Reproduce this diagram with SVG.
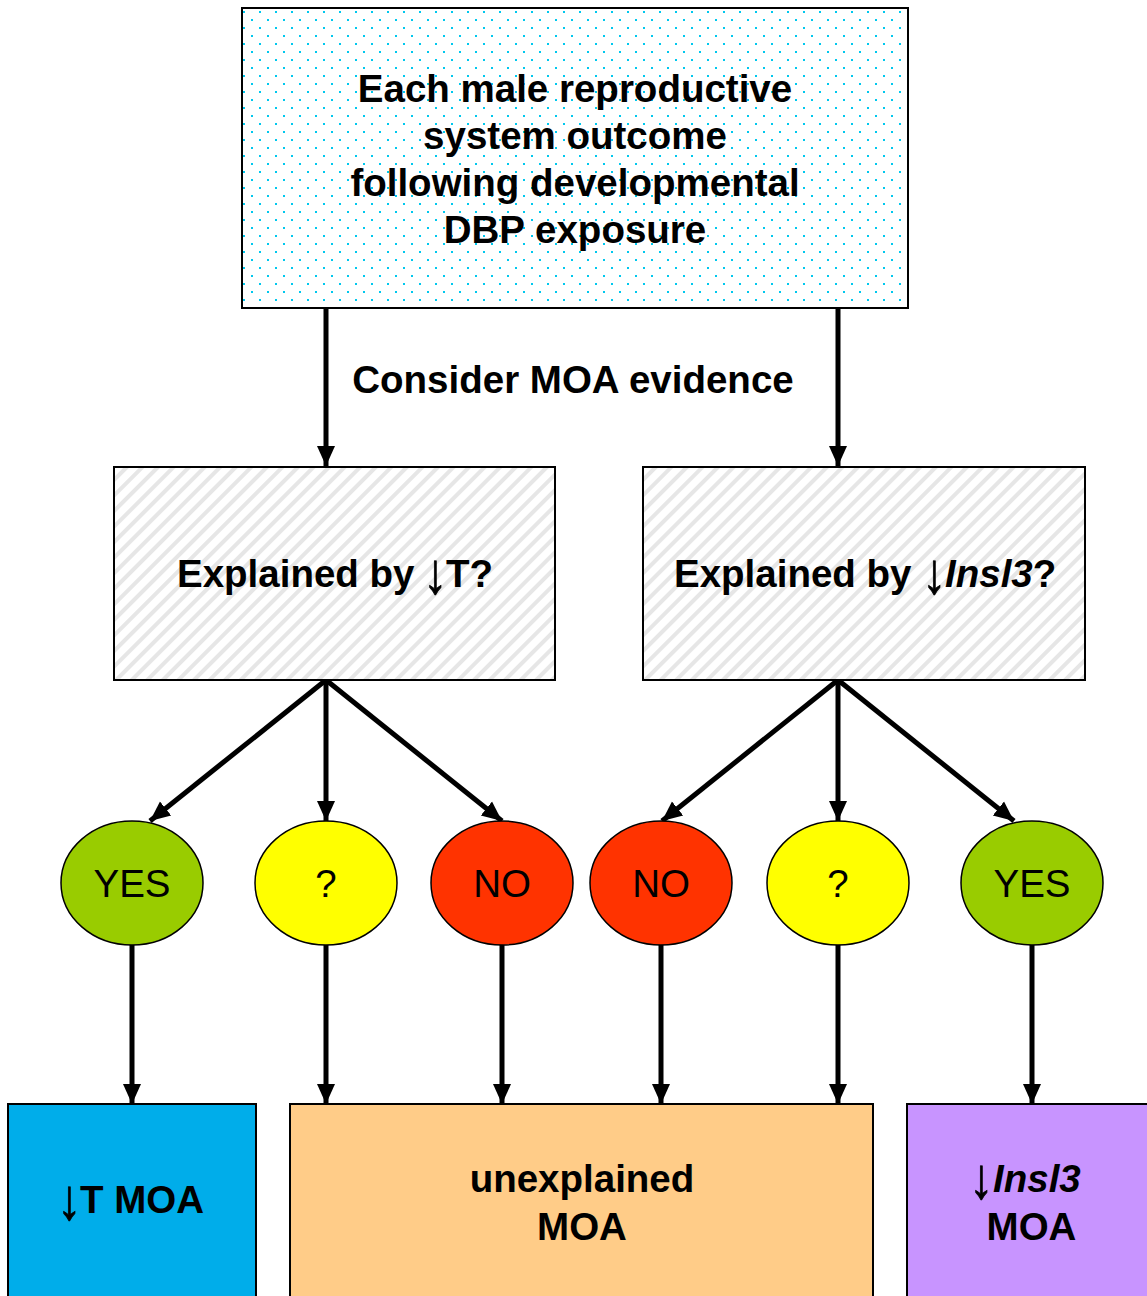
<svg xmlns="http://www.w3.org/2000/svg" width="1147" height="1296" viewBox="0 0 1147 1296">
<defs>
<pattern id="dots" x="243" y="11" width="16" height="16" patternUnits="userSpaceOnUse">
<rect x="0" y="0" width="2" height="2" fill="#00C8EE"/>
<rect x="8" y="8" width="2" height="2" fill="#00C8EE"/>
</pattern>
<pattern id="hatch" width="11" height="11" patternUnits="userSpaceOnUse" patternTransform="rotate(45)">
<rect x="0" y="0" width="11" height="11" fill="#ffffff"/>
<rect x="0" y="0" width="4" height="11" fill="#e6e6e6"/>
</pattern>
<marker id="ah" markerUnits="userSpaceOnUse" markerWidth="20" markerHeight="20" viewBox="0 0 20 20" refX="20" refY="10" orient="auto">
<path d="M0,1 L20,10 L0,19 Z" fill="#000"/>
</marker>
</defs>
<style>
.box{stroke:#000;stroke-width:2}
.t{font-family:"Liberation Sans",Arial,sans-serif;font-weight:bold;font-size:38.5px;text-anchor:middle;fill:#000}
.s{text-anchor:start}
.e{font-family:"Liberation Sans",Arial,sans-serif;font-size:38.5px;text-anchor:middle;fill:#000}
.ar{font-family:"Liberation Sans",Arial,sans-serif;font-size:36px;text-anchor:middle;fill:#000;stroke:#000;stroke-width:0.5}
.c{stroke:#000;stroke-width:5;fill:none;marker-end:url(#ah)}
.el{stroke:#000;stroke-width:1.5}
</style>
<rect width="1147" height="1296" fill="#fff"/>
<g id="connectors">
<line class="c" x1="326" y1="308" x2="326" y2="466"/>
<line class="c" x1="838" y1="308" x2="838" y2="466"/>
<line class="c" x1="326" y1="680" x2="150" y2="821"/>
<line class="c" x1="326" y1="680" x2="326" y2="821"/>
<line class="c" x1="326" y1="680" x2="502" y2="821"/>
<line class="c" x1="838" y1="680" x2="662" y2="821"/>
<line class="c" x1="838" y1="680" x2="838" y2="821"/>
<line class="c" x1="838" y1="680" x2="1014" y2="821"/>
<line class="c" x1="132" y1="945" x2="132" y2="1104"/>
<line class="c" x1="326" y1="945" x2="326" y2="1104"/>
<line class="c" x1="502" y1="945" x2="502" y2="1104"/>
<line class="c" x1="661" y1="945" x2="661" y2="1104"/>
<line class="c" x1="838" y1="945" x2="838" y2="1104"/>
<line class="c" x1="1032" y1="945" x2="1032" y2="1104"/>
</g>
<g id="label-consider">
<text class="t" x="573" y="393">Consider MOA evidence</text>
</g>
<g id="top">
<rect class="box" x="242" y="8" width="666" height="300" fill="#fff"/>
<rect x="243" y="9" width="664" height="298" fill="url(#dots)"/>
<text class="t" x="575" y="102">Each male reproductive</text>
<text class="t" x="575" y="149">system outcome</text>
<text class="t" x="575" y="196">following developmental</text>
<text class="t" x="575" y="243">DBP exposure</text>
</g>
<g id="q-t">
<rect class="box" x="114" y="467" width="441" height="213" fill="url(#hatch)"/>
<text class="t s" x="177" y="587">Explained by</text>
<text class="ar" transform="translate(435.5,593) scale(1.35,1.6)">↓</text>
<text class="t s" x="446" y="587">T?</text>
</g>
<g id="q-insl3">
<rect class="box" x="643" y="467" width="442" height="213" fill="url(#hatch)"/>
<text class="t s" x="674" y="587">Explained by</text>
<text class="ar" transform="translate(934.5,593) scale(1.35,1.6)">↓</text>
<text class="t s" x="945" y="587"><tspan font-style="italic">Insl3</tspan>?</text>
</g>
<g id="yes1"><ellipse class="el" cx="132" cy="883" rx="71" ry="62" fill="#99CC00"/><text class="e" x="132" y="897">YES</text></g>
<g id="q1"><ellipse class="el" cx="326" cy="883" rx="71" ry="62" fill="#FFFF00"/><text class="e" x="326" y="897">?</text></g>
<g id="no1"><ellipse class="el" cx="502" cy="883" rx="71" ry="62" fill="#FF3300"/><text class="e" x="502" y="897">NO</text></g>
<g id="no2"><ellipse class="el" cx="661" cy="883" rx="71" ry="62" fill="#FF3300"/><text class="e" x="661" y="897">NO</text></g>
<g id="q2"><ellipse class="el" cx="838" cy="883" rx="71" ry="62" fill="#FFFF00"/><text class="e" x="838" y="897">?</text></g>
<g id="yes2"><ellipse class="el" cx="1032" cy="883" rx="71" ry="62" fill="#99CC00"/><text class="e" x="1032" y="897">YES</text></g>
<g id="t-moa">
<rect class="box" x="8" y="1104" width="248" height="200" fill="#00ADEA"/>
<text class="ar" transform="translate(69.5,1219) scale(1.35,1.6)">↓</text>
<text class="t s" x="80" y="1213">T MOA</text>
</g>
<g id="unexplained">
<rect class="box" x="290" y="1104" width="583" height="200" fill="#FFCC88"/>
<text class="t" x="582" y="1192">unexplained</text>
<text class="t" x="582" y="1240">MOA</text>
</g>
<g id="insl3-moa">
<rect class="box" x="907" y="1104" width="250" height="200" fill="#C894FF"/>
<text class="ar" transform="translate(981.5,1198) scale(1.35,1.6)">↓</text>
<text class="t s" x="993" y="1192" font-style="italic">Insl3</text>
<text class="t" x="1031.5" y="1240">MOA</text>
</g>
</svg>
